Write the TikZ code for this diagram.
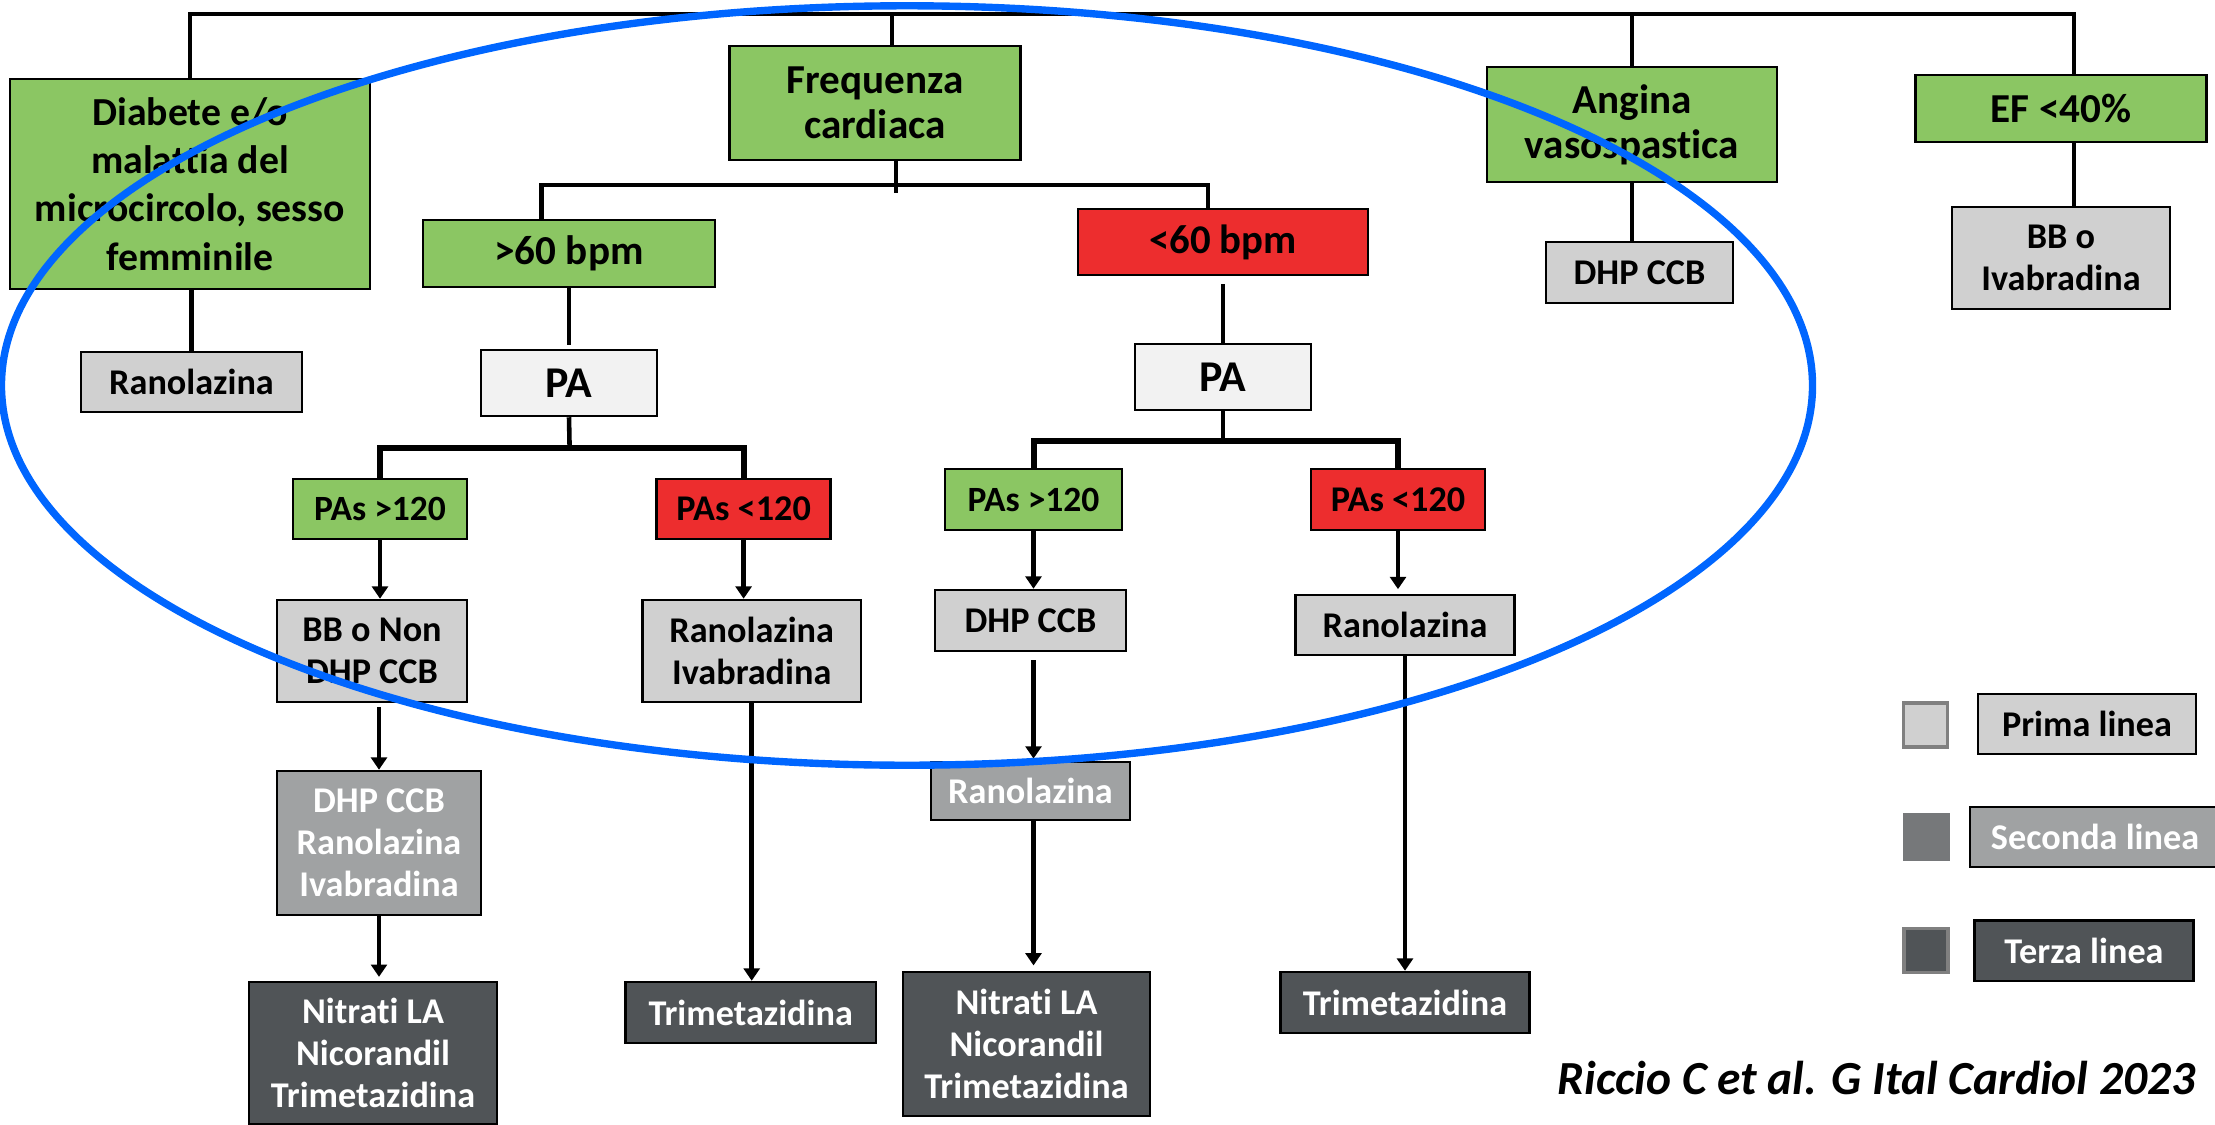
\documentclass[tikz,border=0pt]{standalone}
\usepackage{fontspec}
\setmainfont{Carlito}[Ligatures=NoCommon]
\usetikzlibrary{arrows.meta}
\definecolor{verde}{RGB}{139,198,99}
\definecolor{rosso}{RGB}{237,45,46}
\definecolor{prima}{RGB}{208,208,208}
\definecolor{seconda}{RGB}{160,162,163}
\definecolor{terza}{RGB}{80,84,87}
\definecolor{chiaro}{RGB}{242,242,242}
\definecolor{quadro}{RGB}{118,120,122}
\definecolor{ellisse}{RGB}{0,102,255}

\begin{document}
\begin{tikzpicture}[x=0.01cm,y=-0.01cm]
    \tikzstyle{box}=[draw=black,line width=0.7pt,align=center,inner sep=2pt,font=\fontsize{10.3}{12}\selectfont\bfseries]
    \tikzstyle{verdebox}=[box,fill=verde,font=\fontsize{11.7}{12.8}\selectfont\bfseries]
    \tikzstyle{rossobox}=[box,fill=rosso]
    \tikzstyle{pabox}=[box,fill=chiaro,font=\fontsize{12.5}{13}\selectfont\bfseries]
    \tikzstyle{primabox}=[box,fill=prima]
    \tikzstyle{secondabox}=[box,fill=seconda,text=white]
    \tikzstyle{terzabox}=[box,fill=terza,text=white]
    \tikzstyle{quadrato}=[draw=gray,line width=1pt,minimum width=0.44cm,minimum height=0.44cm,inner sep=0pt]
    \tikzstyle{linea}=[line width=1.3pt]
    \tikzstyle{barra}=[line width=1.7pt]
    \tikzstyle{freccia}=[line width=1.3pt,-{Triangle[length=3.5pt,width=4.5pt]}]
    \useasboundingbox (0,0) rectangle (2215,1124);

    % criteri
    \node[verdebox,minimum width=3.6cm,minimum height=2.1cm,font=\fontsize{11.3}{13.7}\selectfont\bfseries] (diab) at (190,184) {Diabete e/o\\malattia del\\microcircolo, sesso\\femminile};
    \node[verdebox,minimum width=2.91cm,minimum height=1.14cm] (freq) at (875,103) {Frequenza\\cardiaca};
    \node[verdebox,minimum width=2.9cm,minimum height=1.15cm] (ang) at (1632,124.5) {Angina\\vasospastica};
    \node[verdebox,minimum width=2.91cm,minimum height=0.67cm] (ef) at (2061,108.5) {EF <40\%};
    \node[primabox,minimum width=2.21cm,minimum height=0.6cm] (ranoD) at (191.5,382) {Ranolazina};
    \node[primabox,minimum width=1.87cm,minimum height=0.61cm] (dhpA) at (1639.5,272.5) {DHP CCB};
    \node[primabox,minimum width=2.18cm,minimum height=1.02cm] (bbIva) at (2061,258) {BB o\\Ivabradina};

    % frequenza cardiaca
    \node[verdebox,minimum width=2.92cm,minimum height=0.67cm] (gt60) at (569,253.5) {>60 bpm};
    \node[rossobox,minimum width=2.9cm,minimum height=0.66cm,font=\fontsize{11.6}{13}\selectfont\bfseries] (lt60) at (1223,242) {<60 bpm};
    \node[pabox,minimum width=1.76cm,minimum height=0.66cm] (paL) at (569,383) {PA};
    \node[pabox,minimum width=1.76cm,minimum height=0.66cm] (paR) at (1223,377) {PA};

    % pressione arteriosa
    \node[verdebox,minimum width=1.74cm,minimum height=0.6cm,font=\fontsize{10.1}{12}\selectfont\bfseries] (pasHL) at (380,509) {PAs >120};
    \node[rossobox,minimum width=1.74cm,minimum height=0.6cm] (pasLL) at (743.6,509) {PAs <120};
    \node[verdebox,minimum width=1.77cm,minimum height=0.61cm,font=\fontsize{10.1}{12}\selectfont\bfseries] (pasHR) at (1033.5,499.5) {PAs >120};
    \node[rossobox,minimum width=1.74cm,minimum height=0.61cm] (pasLR) at (1398,499.5) {PAs <120};

    % terapie
    \node[primabox,minimum width=1.9cm,minimum height=1.02cm] (bbNon) at (372,651) {BB o Non\\DHP CCB};
    \node[primabox,minimum width=2.18cm,minimum height=1.02cm] (ranoIva) at (751.7,651) {Ranolazina\\Ivabradina};
    \node[primabox,minimum width=1.91cm,minimum height=0.61cm] (dhpR) at (1030.5,620.5) {DHP CCB};
    \node[primabox,minimum width=2.19cm,minimum height=0.6cm] (ranoR) at (1405,625) {Ranolazina};
    \node[secondabox,minimum width=2.04cm,minimum height=1.44cm] (sec1) at (379,843) {DHP CCB\\Ranolazina\\Ivabradina};
    \node[secondabox,minimum width=1.99cm,minimum height=0.58cm] (ranoR2) at (1030.5,791) {Ranolazina};
    \node[terzabox,minimum width=2.48cm,minimum height=1.42cm] (ter1) at (373,1053) {Nitrati LA\\Nicorandil\\Trimetazidina};
    \node[terzabox,minimum width=2.5cm,minimum height=0.61cm] (trimL) at (750.7,1012.5) {Trimetazidina};
    \node[terzabox,minimum width=2.47cm,minimum height=1.44cm] (ter2) at (1026.5,1044) {Nitrati LA\\Nicorandil\\Trimetazidina};
    \node[terzabox,minimum width=2.49cm,minimum height=0.61cm] (trimR) at (1405,1002.5) {Trimetazidina};

    % legenda
    \node[quadrato,fill=prima] (sqP) at (1925.5,725) {};
    \node[quadrato,fill=quadro,draw=quadro] (sqS) at (1926.5,837) {};
    \node[quadrato,fill=terza] (sqT) at (1926,950.5) {};
    \node[primabox,minimum width=2.18cm,minimum height=0.6cm] (legP) at (2087,724) {Prima linea};
    \node[secondabox,minimum width=2.5cm,minimum height=0.6cm] (legS) at (2095,837) {Seconda linea};
    \node[terzabox,minimum width=2.19cm,minimum height=0.6cm] (legT) at (2084,950.7) {Terza linea};
    \node[anchor=base east,inner sep=0pt,font=\fontsize{13.5}{15}\selectfont\bfseries\itshape] (fonte) at (2196,1094) {Riccio C et al. G Ital Cardiol 2023};

    % linee
    \coordinate (bD) at (190,14);
    \coordinate (bF) at (892,14);
    \coordinate (bA) at (1632,14);
    \coordinate (bE) at (2074,14);
    \coordinate (fM) at (896,193);
    \coordinate (fL) at (541.6,185);
    \coordinate (fR) at (1208,185);
    \coordinate (pL) at (569.6,447.7);
    \coordinate (pR) at (1223,441);
    \draw[linea] (diab.north) -- (bD) -- (bE) -- (bE |- ef.north);
    \draw[linea] (bF) -- (bF |- freq.north);
    \draw[linea] (bA) -- (bA |- ang.north);
    \draw[linea] (diab.south -| ranoD.north) -- (ranoD.north);
    \draw[linea] (ang.south) -- (ang.south |- dhpA.north);
    \draw[linea] (bE |- ef.south) -- (bE |- bbIva.north);
    \draw[linea] (fM |- freq.south) -- (fM);
    \draw[linea] (fL |- gt60.north) -- (fL) -- (fR) -- (fR |- lt60.north);
    \draw[linea,shorten >=1.1pt] (gt60.south) -- (paL.north);
    \draw[linea,shorten <=2.3pt] (lt60.south) -- (paR.north);
    \draw[linea] (paL.south) -- (pL);
    \draw[linea] (paR.south) -- (pR);
    \draw[barra] (pasHL.north) -- (pasHL.north |- pL) -- (pasLL.north |- pL) -- (pasLL.north);
    \draw[barra] (pasHR.north) -- (pasHR.north |- pR) -- (pasLR.north |- pR) -- (pasLR.north);

    % frecce
    \draw[freccia] (pasHL.south) -- (pasHL.south |- bbNon.north);
    \draw[freccia,shorten <=1.1pt] (sec1.north |- bbNon.south) -- (sec1.north);
    \draw[freccia,shorten >=1.1pt] (sec1.south) -- (sec1.south |- ter1.north);
    \draw[freccia] (pasLL.south) -- (pasLL.south |- ranoIva.north);
    \draw[freccia] (ranoIva.south) -- (ranoIva.south |- trimL.north);
    \draw[freccia] (pasHR.south) -- (pasHR.south |- dhpR.north);
    \draw[freccia,shorten <=2.3pt,shorten >=0.6pt] (pasHR.south |- dhpR.south) -- (pasHR.south |- ranoR2.north);
    \draw[freccia,shorten >=1.5pt] (pasHR.south |- ranoR2.south) -- (pasHR.south |- ter2.north);
    \draw[freccia,shorten >=1.3pt] (pasLR.south) -- (pasLR.south |- ranoR.north);
    \draw[freccia] (ranoR.south) -- (ranoR.south |- trimR.north);

    % ellisse
    \draw[ellisse,line width=2.1pt] (907,385.5) ellipse [x radius=9.05cm,y radius=3.795cm];
\end{tikzpicture}
\end{document}
